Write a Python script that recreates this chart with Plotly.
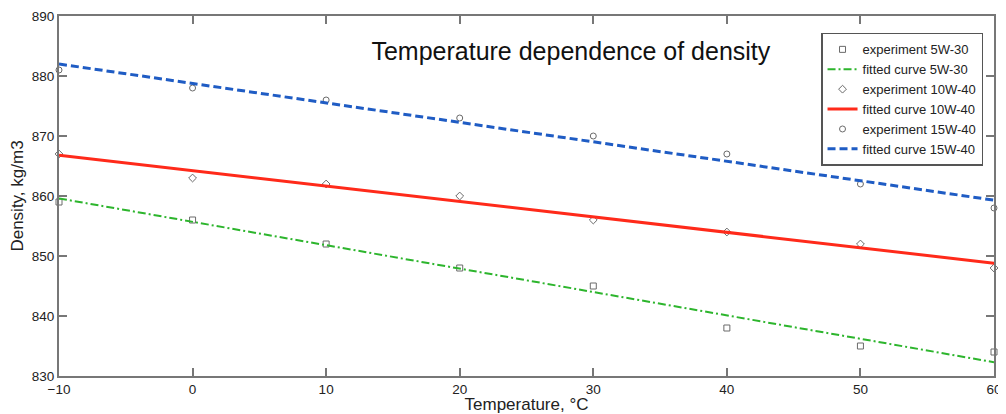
import plotly.graph_objects as go

temperature = [-10, 0, 10, 20, 30, 40, 50, 60]
exp_5w30 = [859, 856, 852, 848, 845, 838, 835, 834]
exp_10w40 = [867, 863, 862, 860, 856, 854, 852, 848]
exp_15w40 = [881, 878, 876, 873, 870, 867, 862, 858]

fit_x = [-10, 60]
fit_5w30 = [859.6, 832.3]
fit_10w40 = [866.8, 848.8]
fit_15w40 = [882.0, 859.3]

x_ticks = [-10, 0, 10, 20, 30, 40, 50, 60]
y_ticks = [830, 840, 850, 860, 870, 880, 890]

FONT = "Liberation Sans, Arial, sans-serif"
gray_marker = dict(color="#6a6a6a", size=6, line=dict(color="#6a6a6a", width=1))

fig = go.Figure()
fig.add_trace(go.Scatter(x=temperature, y=exp_5w30, mode="markers", name="experiment 5W-30",
                         marker=dict(symbol="square-open", **gray_marker), cliponaxis=False))
fig.add_trace(go.Scatter(x=fit_x, y=fit_5w30, mode="lines", name="fitted curve 5W-30",
                         line=dict(color="#2db52d", width=2, dash="8px,3px,2px,3px")))
fig.add_trace(go.Scatter(x=temperature, y=exp_10w40, mode="markers", name="experiment 10W-40",
                         marker=dict(symbol="diamond-open", **gray_marker), cliponaxis=False))
fig.add_trace(go.Scatter(x=fit_x, y=fit_10w40, mode="lines", name="fitted curve 10W-40",
                         line=dict(color="#ff2a1a", width=3)))
fig.add_trace(go.Scatter(x=temperature, y=exp_15w40, mode="markers", name="experiment 15W-40",
                         marker=dict(symbol="circle-open", **gray_marker), cliponaxis=False))
fig.add_trace(go.Scatter(x=fit_x, y=fit_15w40, mode="lines", name="fitted curve 15W-40",
                         line=dict(color="#1f5cc4", width=3, dash="8px,4px")))

axis_common = dict(showgrid=False, zeroline=False, showline=True, linecolor="#777777", linewidth=2,
                   mirror="allticks", ticks="inside", ticklen=8, tickcolor="#777777", tickwidth=1.5,
                   automargin=False, ticklabeloverflow="allow",
                   tickfont=dict(family=FONT, size=13.5, color="#222222"))

# the page body adds an 8px offset, so the figure is sized to fit the window
fig.update_layout(
    width=998, height=406,
    margin=dict(l=51, r=12, t=8, b=38),
    paper_bgcolor="white", plot_bgcolor="white",
    font=dict(family=FONT, color="#222222"),
    title=dict(text="Temperature dependence of density", x=0.564, xanchor="center",
               y=0.894, yanchor="middle", yref="container",
               font=dict(family=FONT, size=25, color="#111111")),
    xaxis=dict(range=[-10, 60], tickvals=x_ticks,
               title=dict(text="Temperature, °C", font=dict(family=FONT, size=17), standoff=0),
               **axis_common),
    yaxis=dict(range=[830, 890], tickvals=y_ticks,
               title=dict(text="Density, kg/m3", font=dict(family=FONT, size=17), standoff=4),
               **axis_common),
    legend=dict(x=0.815, y=0.953, xanchor="left", yanchor="top", bgcolor="white",
                bordercolor="#555555", borderwidth=1.5, font=dict(family=FONT, size=13, color="#222222"),
                tracegroupgap=0, itemwidth=30),
    showlegend=True,
)

fig.write_html("out.html")
